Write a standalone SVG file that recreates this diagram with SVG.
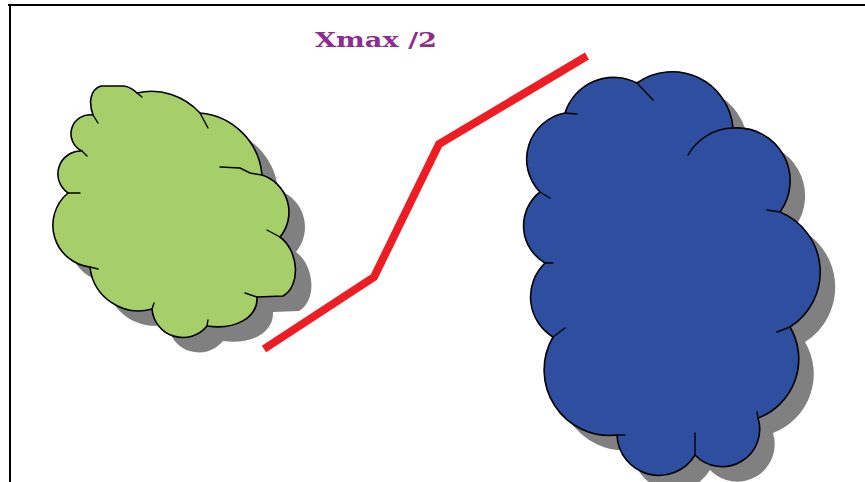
<svg xmlns="http://www.w3.org/2000/svg" width="865" height="482" viewBox="0 0 865 482">
  <style>
    .frame { stroke: #000; stroke-width: 2; fill: none; }
    .shadow { fill: #808080; stroke: none; }
    .outline { stroke: #000; stroke-width: 1.6; stroke-linejoin: round; }
    .tick { stroke: #000; stroke-width: 1.4; fill: none; stroke-linecap: round; }
    .path { stroke: #EE1D23; stroke-width: 8; fill: none; stroke-linejoin: miter; }
    .label { font-family: "DejaVu Serif", "Liberation Serif", serif; font-weight: bold; font-size: 21px; fill: #8E2C8F; }
  </style>
  <defs>
    <path id="greenShape" d="M93,115 C89,104 89,90 101,86 L124,86 C130,87 134,90 137,93 A65,65 0 0 1 200,113 A68,68 0 0 1 262,175 A39,39 0 0 1 280,237 C299,251 301,286 283,296 L257,297 C258,318 235,330 207,326 A31,31 0 0 1 152,309 A49,49 0 0 1 90,267 A42,42 0 0 1 68,193 A23,23 0 0 1 82,151 A19,19 0 0 1 93,115 Z"/>
    <path id="blueShape" d="M637,83 A61,61 0 0 1 733,128 A53,53 0 0 1 780,212 A65,65 0 0 1 790,327 A63,63 0 0 1 758,418 A37.5,37.5 0 0 1 695,455 A42,42 0 0 1 617,435 A65.5,65.5 0 0 1 553,337 A47,47 0 0 1 545,263 A43,43 0 0 1 540,192 A47,47 0 0 1 565,113 A51,51 0 0 1 637,83 Z"/>
  </defs>

  <!-- page frame: top and left edges -->
  <line class="frame" x1="8" y1="5" x2="865" y2="5"/>
  <line class="frame" x1="10" y1="5" x2="10" y2="482"/>

  <!-- left cloud -->
  <g id="green-cloud">
    <use href="#greenShape" class="shadow" transform="translate(16,15)"/>
    <use href="#greenShape" class="outline" fill="#A6CF6A"/>
    <path class="tick" d="M93,115 L98,123 M137,93 L142,97 M200,113 L208,128 M262,175 L250,173 L240,168 L220,167 M280,237 L267,230 M257,297 L245,293 M207,326 L208,320 M152,309 L154,303 M90,267 L98,269 M68,193 L80,193 M82,151 L87,156"/>
  </g>

  <!-- right cloud -->
  <g id="blue-cloud">
    <use href="#blueShape" class="shadow" transform="translate(15,15)"/>
    <use href="#blueShape" class="outline" fill="#2E4F9F"/>
    <path class="tick" d="M637,83 L653,100 M733,128 A53,53 0 0 0 688,155 M780,212 L767,210 M790,327 L777,332 M758,418 L757,412 M695,455 L695,433 M617,435 L625,435 M553,337 L565,328 M545,263 L553,263 M540,192 L550,198 M565,113 L577,114"/>
  </g>

  <!-- connecting path -->
  <g id="connectors">
    <polyline class="path" points="264,349 374,277 439,144 587,56"/>
  </g>

  <g id="title">
    <text class="label" x="315" y="47" textLength="122" lengthAdjust="spacingAndGlyphs">Xmax /2</text>
  </g>
</svg>
